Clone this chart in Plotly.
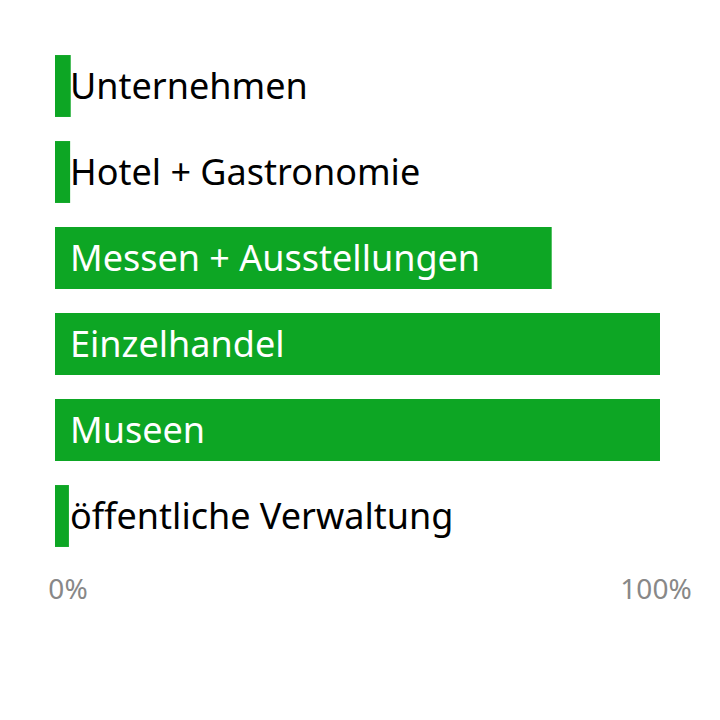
import plotly.graph_objects as go

categories = ["Unternehmen", "Hotel + Gastronomie", "Messen + Ausstellungen",
              "Einzelhandel", "Museen", "öffentliche Verwaltung"]
values = [2.6, 2.5, 82.1, 100, 100, 2.3]
tick_values = [0, 100]
tick_labels = ["0%", "100%"]

GREEN = "#0DA624"
FONT = "Noto Sans"

fig = go.Figure()
fig.add_trace(go.Bar(
    x=values, y=categories, orientation="h",
    marker=dict(color=GREEN, line=dict(width=0)),
    hoverinfo="skip", showlegend=False,
))
# empty trace so the second (tick-only) x axis is drawn
fig.add_trace(go.Scatter(x=[], y=[], xaxis="x2", yaxis="y",
                         showlegend=False, hoverinfo="skip"))

for cat, v in zip(categories, values):
    fig.add_annotation(
        x=0, y=cat, xref="x", yref="y", text=cat, showarrow=False,
        xanchor="left", yanchor="middle", xshift=13, yshift=1,
        font=dict(family=FONT, size=36, color="white" if v > 30 else "black"),
    )

tick_style = dict(showgrid=False, zeroline=False, showline=False, ticks="",
                  tickfont=dict(size=28, color="#888888", family=FONT),
                  ticklabelstandoff=11, fixedrange=True)

fig.update_layout(
    width=720, height=720,
    margin=dict(l=47, r=68, t=35, b=169),
    paper_bgcolor="white", plot_bgcolor="white",
    bargap=0.28,
    font=dict(family=FONT),
    xaxis=dict(range=[0, 100], tickvals=tick_values[:1], ticktext=tick_labels[:1],
               ticklabelshift=13, **tick_style),
    xaxis2=dict(range=[0, 100], overlaying="x", anchor="y", side="bottom",
                tickvals=tick_values[1:], ticktext=tick_labels[1:],
                ticklabelshift=-4, **tick_style),
    yaxis=dict(autorange="reversed", showticklabels=False, showgrid=False,
               zeroline=False, showline=False, ticks=""),
)

fig.write_html("out.html")
